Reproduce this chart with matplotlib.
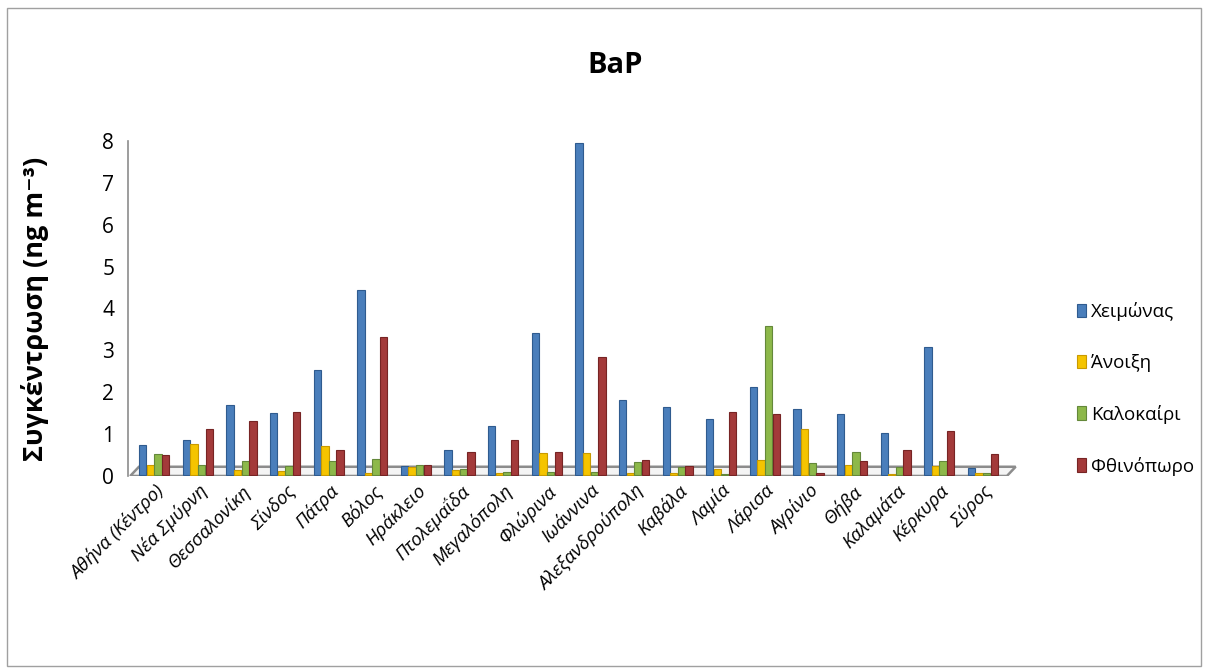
import matplotlib
matplotlib.use("Agg")
import matplotlib.pyplot as plt
from matplotlib.patches import Polygon, Rectangle
import numpy as np

plt.rcParams['font.family'] = ['Open Sans', 'DejaVu Sans']

cities = ["Αθήνα (Κέντρο)", "Νέα Σμύρνη", "Θεσσαλονίκη", "Σίνδος", "Πάτρα",
          "Βόλος", "Ηράκλειο", "Πτολεμαΐδα", "Μεγαλόπολη", "Φλώρινα",
          "Ιωάννινα", "Αλεξανδρούπολη", "Καβάλα", "Λαμία", "Λάρισα",
          "Αγρίνιο", "Θήβα", "Καλαμάτα", "Κέρκυρα", "Σύρος"]

winter = [0.71, 0.83, 1.67, 1.48, 2.50, 4.43, 0.22, 0.60, 1.17, 3.40,
          7.93, 1.79, 1.62, 1.33, 2.10, 1.57, 1.45, 1.00, 3.07, 0.18]
spring = [0.25, 0.75, 0.12, 0.10, 0.70, 0.05, 0.20, 0.12, 0.05, 0.53,
          0.53, 0.05, 0.05, 0.15, 0.37, 1.10, 0.25, 0.03, 0.22, 0.05]
summer = [0.50, 0.23, 0.33, 0.22, 0.33, 0.38, 0.25, 0.15, 0.08, 0.08,
          0.08, 0.32, 0.20, 0.03, 3.55, 0.30, 0.55, 0.20, 0.33, 0.05]
autumn = [0.48, 1.10, 1.29, 1.50, 0.60, 3.29, 0.25, 0.55, 0.83, 0.56,
          2.81, 0.35, 0.22, 1.50, 1.45, 0.05, 0.33, 0.60, 1.05, 0.50]

series = [("Χειμώνας", winter, "#4a7ebb", "#2f5b8f"),
          ("Άνοιξη", spring, "#f5c400", "#c99a00"),
          ("Καλοκαίρι", summer, "#8db84a", "#64883a"),
          ("Φθινόπωρο", autumn, "#a33a3a", "#772424")]

fig = plt.figure(figsize=(12.08, 6.70), dpi=100)
fig.patches.append(Rectangle((0.006, 0.006), 0.988, 0.982, transform=fig.transFigure,
                             fill=False, edgecolor="#a0a0a0", linewidth=1.0))

ax = fig.add_axes([0.106, 0.2896, 0.742, 0.5])
x = np.arange(len(cities))
step = 0.175
width = 0.168

# 3D-style floor under the bars
floor = Polygon([(-0.55, 0), (19.55, 0), (19.75, 0.22), (-0.35, 0.22)], closed=True,
                facecolor="#f4f4f4", edgecolor="#8c8c8c", linewidth=1.8, zorder=1)
ax.add_patch(floor)

for i, (name, vals, col, edge) in enumerate(series):
    ax.bar(x + (i - 1.5) * step, vals, width=width, color=col, edgecolor=edge,
           linewidth=0.8, label=name, zorder=3, bottom=0.02)

ax.set_xlim(-0.6, 19.95)
ax.set_ylim(0, 8)
ax.set_yticks(range(0, 9))
ax.tick_params(axis='y', length=0, labelsize=15, pad=10)
ax.tick_params(axis='x', length=0, labelsize=13.5, pad=4)
ax.set_xticks(x)
ax.set_xticklabels(cities, rotation=45, ha='right', rotation_mode='anchor', style='italic')

for s in ["top", "right", "bottom"]:
    ax.spines[s].set_visible(False)
ax.spines["left"].set_color("#8c8c8c")
ax.spines["left"].set_linewidth(1.2)

ax.set_ylabel("Συγκέντρωση (ng m⁻³)", fontsize=19.5, fontweight='bold', labelpad=10)
ax.yaxis.set_label_coords(-0.088, 0.5)
fig.text(0.509, 0.902, "BaP", ha='center', va='center', fontsize=21, fontweight='bold')

leg = ax.legend(loc='center left', bbox_to_anchor=(1.04, 0.26), frameon=False,
                fontsize=13.5, handlelength=0.5, handleheight=0.75, handletextpad=0.25,
                labelspacing=1.75)

fig.savefig("out.png", dpi=100)
